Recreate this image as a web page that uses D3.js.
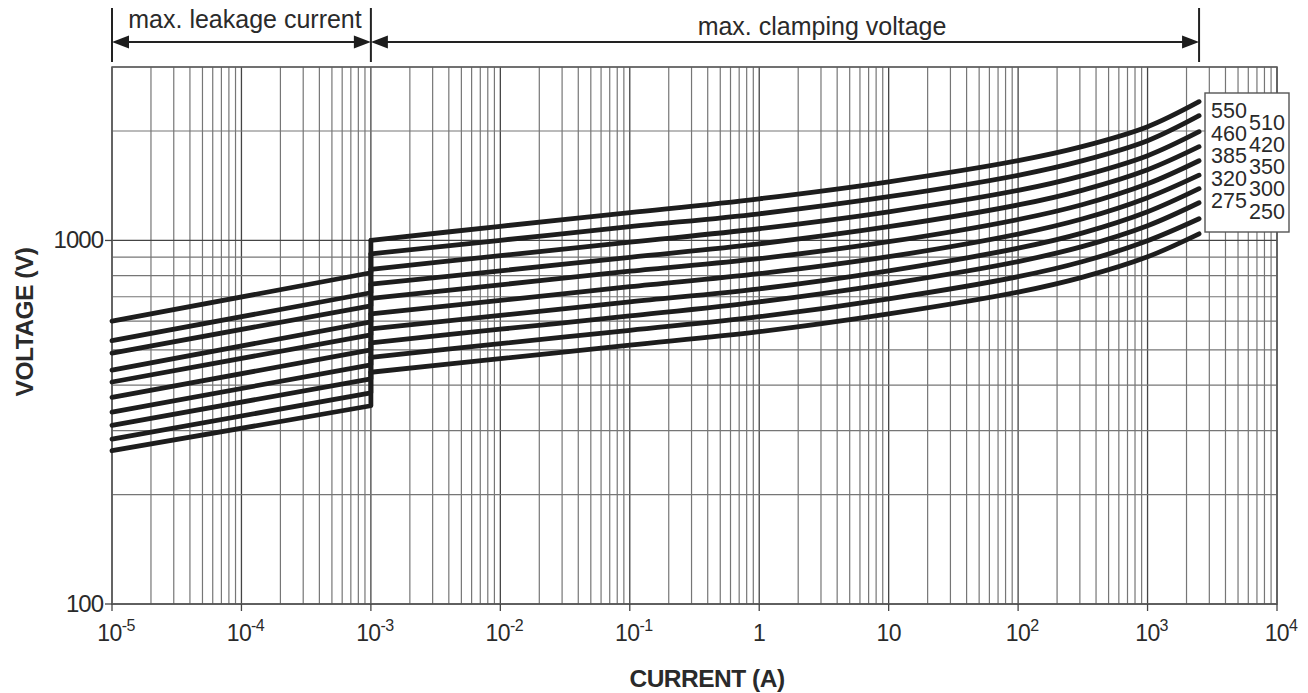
<!DOCTYPE html>
<html lang="en">
<head>
<meta charset="UTF-8">
<title>Voltage vs Current</title>
<script src="https://cdn.jsdelivr.net/npm/d3@7"></script>
<style>
  body { margin: 0; background: #fff; }
  text { font-family: "Liberation Sans", Arial, Helvetica, sans-serif; fill: #2a2a2a; }
</style>
</head>
<body>
<div id="chart"></div>
<script>
// rated voltages, top curve first
var ratings = [550, 510, 460, 420, 385, 350, 320, 300, 275, 250];

// leakage lines: voltage at 10^-5 A and at 10^-3 A
var leakCurrents = [1e-5, 1e-3];
var leakStart = [600, 530, 490, 440, 408, 370, 337, 310, 284, 264];
var leakEnd   = [815, 718, 661, 597, 550, 500, 455, 416, 381, 351];

// clamping curves
var clampCurrents = [1e-3, 1e-2, 1e-1, 1, 10, 100, 316, 1000, 2500];
var clampVolts = [
  [1000, 1094, 1192, 1302, 1450, 1658, 1815, 2056, 2409],
  [919, 1001, 1091, 1184, 1319, 1511, 1658, 1881, 2204],
  [833, 908, 989, 1077, 1199, 1373, 1508, 1711, 1992],
  [758, 825, 899, 979, 1091, 1252, 1376, 1565, 1811],
  [693, 755, 823, 891, 992, 1142, 1256, 1432, 1657],
  [628, 684, 746, 810, 902, 1041, 1147, 1311, 1512],
  [571, 622, 678, 736, 825, 952, 1049, 1199, 1388],
  [523, 570, 620, 678, 760, 875, 963, 1098, 1270],
  [477, 520, 566, 617, 691, 795, 875, 998, 1147],
  [434, 473, 515, 561, 628, 721, 793, 902, 1043]
];

// axis ticks
var xTickValues = [1e-5, 1e-4, 1e-3, 1e-2, 1e-1, 1, 10, 100, 1000, 10000];
var xTickBase = ["10", "10", "10", "10", "10", "1", "10", "10", "10", "10"];
var xTickSup  = ["-5", "-4", "-3", "-2", "-1", "", "", "2", "3", "4"];
var yTickValues = [100, 1000];
var yGridValues = [100, 200, 300, 400, 500, 600, 700, 800, 900, 1000, 2000, 3000];

// legend columns
var legendLeft = ["550", "460", "385", "320", "275"];
var legendRight = ["510", "420", "350", "300", "250"];

var margin = {top: 67, right: 31, bottom: 89, left: 112},
    width = 1308 - margin.left - margin.right,
    height = 693 - margin.top - margin.bottom;

var root = d3.select("#chart").append("svg")
    .attr("width", 1308)
    .attr("height", 693);
var svg = root.append("g")
    .attr("transform", "translate(" + margin.left + "," + margin.top + ")");

var x = d3.scaleLog().domain([1e-5, 1e4]).range([0, width]);
var y = d3.scaleLog().domain([100, 3000]).range([height, 0]);

// vertical grid
var xGrid = [];
for (var e = -5; e < 4; e++) {
  for (var k = 1; k <= 9; k++) xGrid.push({v: k * Math.pow(10, e), major: k === 1});
}
xGrid.push({v: 1e4, major: true});

svg.append("g").selectAll("line")
  .data(xGrid)
  .enter().append("line")
    .attr("x1", d => x(d.v)).attr("x2", d => x(d.v))
    .attr("y1", 0).attr("y2", height)
    .style("stroke", d => d.major ? "#444" : "#767676")
    .style("stroke-width", d => d.major ? 1.3 : 1.2);

// horizontal grid
svg.append("g").selectAll("line")
  .data(yGridValues)
  .enter().append("line")
    .attr("x1", 0).attr("x2", width)
    .attr("y1", d => y(d)).attr("y2", d => y(d))
    .style("stroke", d => (d === 1000 || d === 100) ? "#444" : "#767676")
    .style("stroke-width", d => (d === 1000 || d === 100) ? 1.3 : 1.2);

// frame
svg.append("rect")
  .attr("width", width).attr("height", height)
  .style("fill", "none").style("stroke", "#5a5a5a").style("stroke-width", 1.5);

// x ticks and labels
svg.append("g").selectAll("line")
  .data(xTickValues)
  .enter().append("line")
    .attr("x1", d => x(d)).attr("x2", d => x(d))
    .attr("y1", height).attr("y2", height + 7)
    .style("stroke", "#444").style("stroke-width", 1.3);

var xl = svg.append("g").selectAll("text")
  .data(xTickValues)
  .enter().append("text")
    .attr("x", (d, i) => x(d) + (xTickSup[i] ? 4 : 0))
    .attr("y", height + 37)
    .attr("text-anchor", "middle")
    .style("font-size", "23px")
    .style("letter-spacing", "-0.6px");
xl.append("tspan").text((d, i) => xTickBase[i]);
xl.append("tspan")
    .attr("dy", -10)
    .style("font-size", "16px")
    .text((d, i) => xTickSup[i]);

// y ticks and labels
svg.append("g").selectAll("line")
  .data(yTickValues)
  .enter().append("line")
    .attr("x1", -7).attr("x2", 0)
    .attr("y1", d => y(d)).attr("y2", d => y(d))
    .style("stroke", "#444").style("stroke-width", 1.3);

svg.append("g").selectAll("text")
  .data(yTickValues)
  .enter().append("text")
    .attr("x", -9)
    .attr("y", d => y(d) + 8)
    .attr("text-anchor", "end")
    .style("font-size", "24px")
    .style("letter-spacing", "-1px")
    .text(d => d);

// axis titles
root.append("text")
  .attr("x", 707).attr("y", 687)
  .attr("text-anchor", "middle")
  .style("font-size", "24.5px").style("font-weight", "bold")
  .style("letter-spacing", "-0.5px")
  .text("CURRENT (A)");

root.append("text")
  .attr("transform", "translate(33,322) rotate(-90)")
  .attr("text-anchor", "middle")
  .style("font-size", "24.5px").style("font-weight", "bold")
  .style("letter-spacing", "-0.5px")
  .text("VOLTAGE (V)");

// curves
var straight = d3.line().x(d => x(d[0])).y(d => y(d[1]));
var smooth = d3.line().curve(d3.curveCatmullRom.alpha(0.5)).x(d => x(d[0])).y(d => y(d[1]));

ratings.forEach(function(r, i) {
  var leak = [
    [leakCurrents[0], leakStart[i]],
    [leakCurrents[1], leakEnd[i]],
    [clampCurrents[0], clampVolts[i][0]]
  ];
  var clamp = clampCurrents.map((c, j) => [c, clampVolts[i][j]]);
  [straight(leak), smooth(clamp)].forEach(function(p) {
    svg.append("path")
      .attr("d", p)
      .style("fill", "none")
      .style("stroke", "#1d1d1d")
      .style("stroke-width", 4.8)
      .style("stroke-linecap", "round")
      .style("stroke-linejoin", "round");
  });
});

// legend box
var lg = svg.append("g");
lg.append("rect")
  .attr("x", 1205 - margin.left).attr("y", 93 - margin.top)
  .attr("width", 84).attr("height", 139)
  .style("fill", "#fff").style("stroke", "#555").style("stroke-width", 1.4);
lg.selectAll(".lcol")
  .data(legendLeft)
  .enter().append("text")
    .attr("x", 1211 - margin.left)
    .attr("y", (d, i) => 118 - margin.top + i * 22.5)
    .style("font-size", "21.5px")
    .text(d => d);
lg.selectAll(".rcol")
  .data(legendRight)
  .enter().append("text")
    .attr("x", 1249 - margin.left)
    .attr("y", (d, i) => 129.5 - margin.top + i * 22.3)
    .style("font-size", "21.5px")
    .text(d => d);

// range annotations above the plot
var annot = root.append("g").attr("transform", "translate(" + margin.left + ",0)");
var bars = [1e-5, 1e-3, 2500];
annot.selectAll("line.bar")
  .data(bars)
  .enter().append("line")
    .attr("x1", d => x(d)).attr("x2", d => x(d))
    .attr("y1", 8).attr("y2", 62)
    .style("stroke", "#222").style("stroke-width", 2);

function arrow(a, b, yy) {
  var xa = x(a), xb = x(b);
  annot.append("line")
    .attr("x1", xa + 4).attr("x2", xb - 4)
    .attr("y1", yy).attr("y2", yy)
    .style("stroke", "#222").style("stroke-width", 2);
  annot.append("path")
    .attr("d", "M" + xa + "," + yy + "L" + (xa + 17) + "," + (yy - 6.5) + "L" + (xa + 17) + "," + (yy + 6.5) + "Z")
    .style("fill", "#1d1d1d");
  annot.append("path")
    .attr("d", "M" + xb + "," + yy + "L" + (xb - 17) + "," + (yy - 6.5) + "L" + (xb - 17) + "," + (yy + 6.5) + "Z")
    .style("fill", "#1d1d1d");
}
arrow(1e-5, 1e-3, 42);
arrow(1e-3, 2500, 42);

root.append("text")
  .attr("x", 245).attr("y", 28)
  .attr("text-anchor", "middle")
  .style("font-size", "25px")
  .text("max. leakage current");

root.append("text")
  .attr("x", 822).attr("y", 35)
  .attr("text-anchor", "middle")
  .style("font-size", "25px")
  .text("max. clamping voltage");
</script>
</body>
</html>
